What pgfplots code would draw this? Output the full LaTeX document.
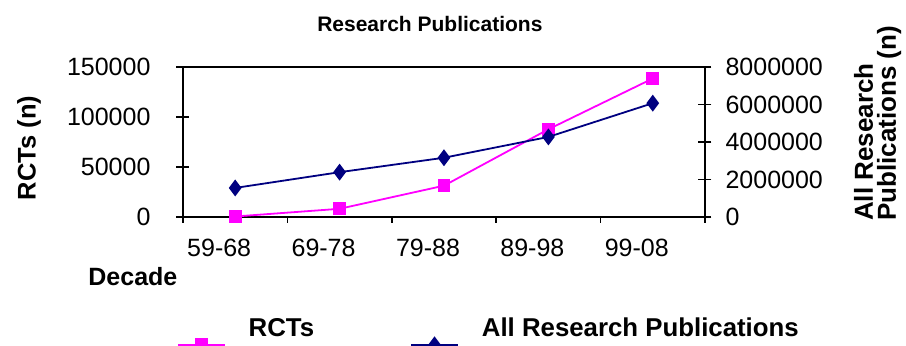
\documentclass[border=0pt]{standalone}
\usepackage{fontspec}
\setmainfont{Liberation Sans}
\usepackage{pgfplots}
\pgfplotsset{compat=1.18}
\definecolor{rct}{HTML}{FF00FF}
\definecolor{allpub}{HTML}{000080}
\pgfplotsset{
  every axis/.append style={
    /pgf/number format/assume math mode=true,
    /pgf/number format/fixed,
    /pgf/number format/1000 sep={},
    scaled y ticks=false,
    tick label style={font=\fontsize{12.5}{14}\selectfont},
    axis line style={line width=0.8pt},
    every tick/.append style={line width=0.8pt, black},
  },
  legend image code/.code={\draw[mark repeat=2,mark phase=2,#1] plot coordinates {(0pt,-8pt) (11.75pt,-8pt) (23.5pt,-8pt)};}
}
\begin{document}
\begin{tikzpicture}
\useasboundingbox (-91.5pt,-64.5pt) rectangle (361.5pt,108.5pt);
\begin{axis}[
  at={(0pt,0pt)}, anchor=south west,
  width=261pt, height=75pt, scale only axis,
  xmin=-0.5, xmax=4.5, ymin=0, ymax=150000,
  xtick={0,...,4}, xticklabels={59-68,69-78,79-88,89-98,99-08},
  major x tick style={draw=none},
  minor xtick={-0.5,0.5,...,4.5},
  minor x tick style={yshift=-1.5pt},
  minor tick length=3pt,
  xticklabel style={xshift=-8pt, yshift=-4pt},
  ytick={0,50000,100000,150000},
  ytick pos=left, xtick pos=bottom,
  tick align=center, major tick length=6.5pt,
  yticklabel style={xshift=-9.5pt},
  title={Research Publications},
  title style={font=\bfseries\fontsize{10.5}{12}\selectfont, at={(axis description cs:0.473,1.3)}, anchor=center, yshift=-7pt},
  ylabel={RCTs (n)},
  ylabel style={font=\bfseries\fontsize{12.75}{14}\selectfont, at={(axis description cs:-0.295,0.46)}, anchor=center},
  xlabel={Decade},
  xlabel style={font=\bfseries\fontsize{12.5}{14}\selectfont, at={(axis description cs:-0.096,-0.4)}, anchor=center},
]
\addplot[rct, line width=0.9pt, mark=square*, mark size=2.75pt, mark options={solid, fill=rct, draw=rct}]
  coordinates {(0,500) (1,8200) (2,31300) (3,87700) (4,138500)};
\end{axis}
\begin{axis}[
  at={(0pt,0pt)}, anchor=south west,
  width=261pt, height=75pt, scale only axis,
  xmin=-0.5, xmax=4.5, ymin=0, ymax=8000000,
  axis x line=none, axis y line*=right,
  ytick={0,2000000,4000000,6000000,8000000},
  tick align=center, major tick length=6.5pt,
  yticklabel style={xshift=3.5pt},
  ylabel={All Research\\Publications (n)},
  ylabel style={font=\bfseries\fontsize{13}{11.5}\selectfont, align=left, at={(axis description cs:1.272,-0.073)}, anchor=north west},
  legend style={draw=none, fill=none, at={(axis description cs:-0.024,-0.773)}, anchor=west,
    legend columns=2, font=\bfseries\fontsize{12.9}{14}\selectfont,
    /tikz/every odd column/.append style={column sep=9.5pt},
    /tikz/every even column/.append style={column sep=46pt}},
  legend cell align=left,
]
\addlegendimage{rct, line width=0.9pt, mark=square*, mark size=2.75pt, mark options={solid, fill=rct, draw=rct}}
\addlegendentry{RCTs}
\addplot[allpub, line width=0.9pt, mark=diamond*, mark size=3.5pt, mark options={solid, fill=allpub, draw=allpub}]
  coordinates {(0,1550000) (1,2390000) (2,3160000) (3,4270000) (4,6070000)};
\addlegendentry{All Research Publications}
\end{axis}
\end{tikzpicture}
\end{document}
